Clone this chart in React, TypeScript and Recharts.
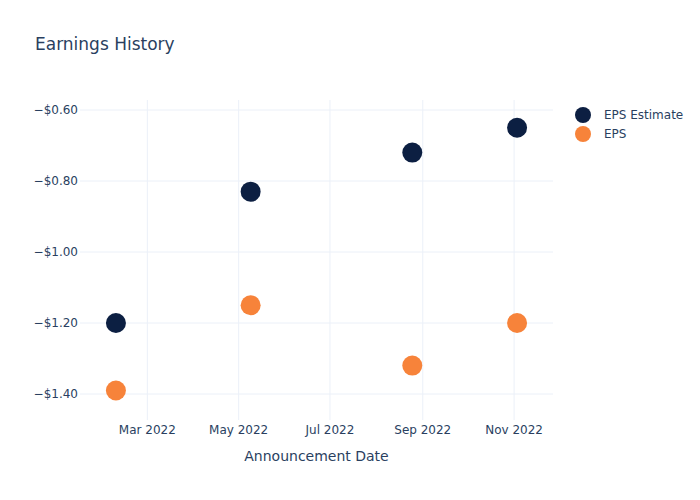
import React from "react";
import {
  ScatterChart,
  Scatter,
  XAxis,
  YAxis,
  CartesianGrid,
} from "recharts";

const announcementDates = ["2022-02-08", "2022-05-09", "2022-08-25", "2022-11-03"];
const epsEstimate = [-1.2, -0.83, -0.72, -0.65];
const epsActual = [-1.39, -1.15, -1.32, -1.2];

const xTickDates = ["2022-03-01", "2022-05-01", "2022-07-01", "2022-09-01", "2022-11-01"];
const yTicks = [-1.4, -1.2, -1.0, -0.8, -0.6];

const MONTHS = ["Jan", "Feb", "Mar", "Apr", "May", "Jun", "Jul", "Aug", "Sep", "Oct", "Nov", "Dec"];

const ESTIMATE_COLOR = "#0c1f42";
const EPS_COLOR = "#f7833a";
const TEXT_COLOR = "#2a3f5f";
const GRID_COLOR = "#ebf0f8";

const toTime = (d: string) => Date.parse(d + "T00:00:00Z");

const estimateData = announcementDates.map((d, i) => ({ date: toTime(d), value: epsEstimate[i] }));
const epsData = announcementDates.map((d, i) => ({ date: toTime(d), value: epsActual[i] }));
const xTicks = xTickDates.map(toTime);

const xDomain = [toTime("2022-01-15"), toTime("2022-11-27")];
const yDomain = [-1.4732, -0.5718];

function formatMonth(v: number) {
  const d = new Date(v);
  return `${MONTHS[d.getUTCMonth()]} ${d.getUTCFullYear()}`;
}

function formatDollar(v: number) {
  const s = "$" + Math.abs(v).toFixed(2);
  return v < 0 ? "\u2212" + s : s;
}

const dot = (color: string) => (props: any) => (
  <circle cx={props.cx} cy={props.cy} r={10} fill={color} />
);

export default function App() {
  return (
    <div
      style={{
        position: "absolute",
        left: 0,
        top: 0,
        width: 700,
        height: 500,
        background: "#fff",
        fontFamily: "'DejaVu Sans', sans-serif",
      }}
    >
      <div
        style={{
          position: "absolute",
          left: 35,
          top: 34,
          fontSize: 17,
          color: TEXT_COLOR,
          lineHeight: "20px",
        }}
      >
        Earnings History
      </div>

      <ScatterChart
        width={700}
        height={500}
        margin={{ top: 100, right: 147, bottom: 0, left: 0 }}
      >
        <CartesianGrid
          stroke={GRID_COLOR}
          strokeWidth={1}
          horizontalValues={yTicks}
          verticalValues={xTicks}
        />
        <XAxis
          type="number"
          dataKey="date"
          domain={xDomain}
          ticks={xTicks}
          tickFormatter={formatMonth}
          axisLine={false}
          tickLine={false}
          tickSize={0}
          tickMargin={5}
          height={80}
          allowDataOverflow
          tick={{ fill: TEXT_COLOR, fontSize: 12 }}
          label={{
            value: "Announcement Date",
            position: "insideBottom",
            offset: 39,
            fill: TEXT_COLOR,
            fontSize: 14,
          }}
        />
        <YAxis
          type="number"
          dataKey="value"
          domain={yDomain}
          ticks={yTicks}
          tickFormatter={formatDollar}
          axisLine={false}
          tickLine={false}
          tickSize={0}
          tickMargin={2}
          width={80}
          allowDataOverflow
          tick={{ fill: TEXT_COLOR, fontSize: 12 }}
        />
        <Scatter
          name="EPS Estimate"
          data={estimateData}
          fill={ESTIMATE_COLOR}
          shape={dot(ESTIMATE_COLOR)}
          isAnimationActive={false}
        />
        <Scatter
          name="EPS"
          data={epsData}
          fill={EPS_COLOR}
          shape={dot(EPS_COLOR)}
          isAnimationActive={false}
        />
      </ScatterChart>

      <div style={{ position: "absolute", left: 575, top: 105, fontSize: 12, color: TEXT_COLOR }}>
        {[
          { label: "EPS Estimate", color: ESTIMATE_COLOR },
          { label: "EPS", color: EPS_COLOR },
        ].map((item) => (
          <div key={item.label} style={{ display: "flex", alignItems: "center", height: 19 }}>
            <span
              style={{
                display: "inline-block",
                width: 16,
                height: 16,
                borderRadius: "50%",
                background: item.color,
                marginRight: 13,
              }}
            />
            <span>{item.label}</span>
          </div>
        ))}
      </div>
    </div>
  );
}
